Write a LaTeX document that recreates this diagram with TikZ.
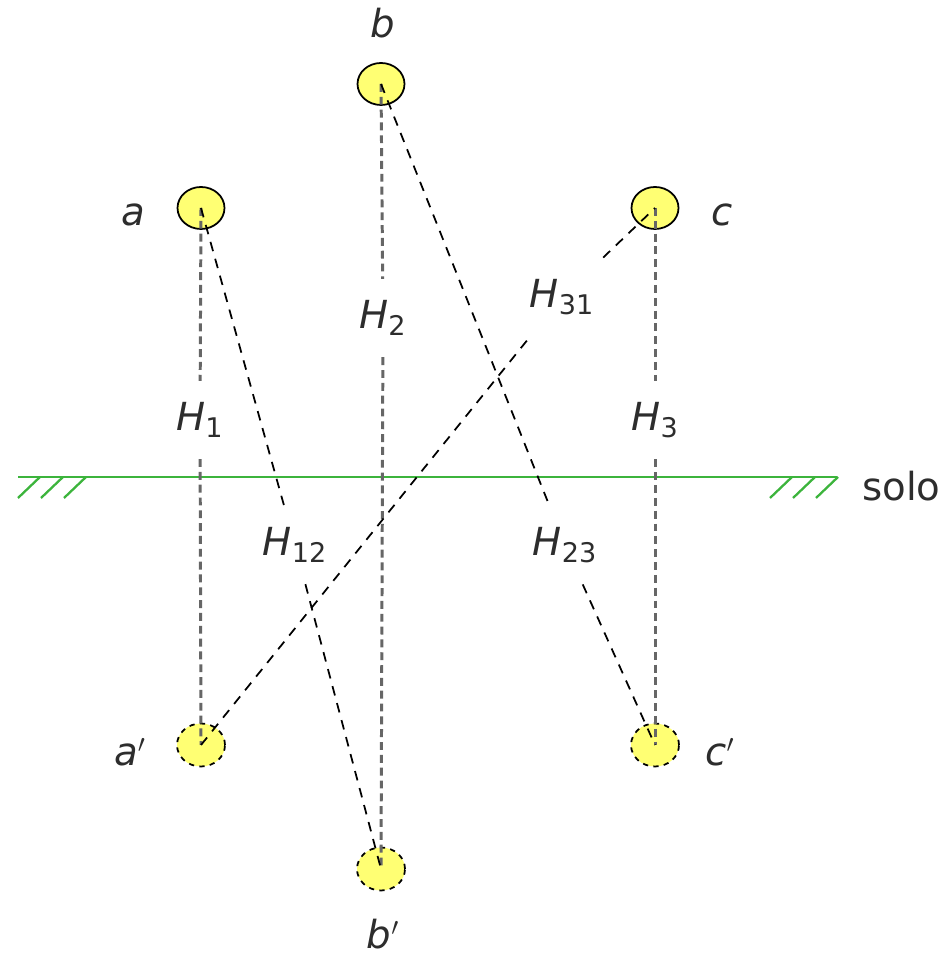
\documentclass[tikz,border=0pt]{standalone}
\usepackage{fontspec}
\setmainfont{DejaVu Sans}
\usetikzlibrary{shapes.geometric}
\definecolor{ball}{RGB}{255,255,115}
\definecolor{soil}{RGB}{60,180,60}
\definecolor{ink}{RGB}{45,45,45}
\tikzset{
  sphere/.style={ellipse,draw=black,fill=ball,line width=1pt,minimum width=0.94cm,minimum height=0.84cm,inner sep=0pt},
  image/.style={sphere,dashed,minimum width=0.96cm,minimum height=0.86cm},
  pname/.style={text=ink,font=\fontsize{22}{26}\selectfont\itshape},
  hlabel/.style={text=ink,font=\fontsize{22}{26}\selectfont,inner sep=0.42cm},
  vline/.style={draw=black!60,line width=1.7pt,dash pattern=on 4.5pt off 2.8pt},
  dline/.style={draw=black,line width=1pt,dash pattern=on 5.5pt off 4.5pt},
  ground/.style={draw=soil,line width=1.3pt}
}
\newcommand{\hh}[1]{{\itshape H}\textsubscript{#1}}
\begin{document}
\begin{tikzpicture}[x=1cm,y=1cm]
\useasboundingbox (0,0) rectangle (18.98,19.12);

% ground
\draw[ground] (0.36,9.58) -- (16.74,9.58);
\foreach \x in {0.36,0.82,1.28,15.40,15.86,16.32}
  \draw[ground] (\x,9.16) -- (\x+0.44,9.58);
\node[anchor=west,text=ink,font=\fontsize{22}{26}\selectfont,inner sep=0pt] (solo) at (17.24,9.40) {solo};

% spheres and their images
\node[sphere] (a) at (4.02,14.96) {};
\node[sphere] (b) at (7.62,17.44) {};
\node[sphere] (c) at (13.10,14.96) {};
\node[image] (a1) at (4.02,4.22) {};
\node[image] (b1) at (7.62,1.74) {};
\node[image] (c1) at (13.10,4.22) {};

\node[pname] (la) at (2.66,14.82) {a};
\node[pname] (lb) at (7.66,18.66) {b};
\node[pname] (lc) at (14.44,14.82) {c};
\node[pname] (la1) at (2.60,4.08) {a$'$};
\node[pname] (lb1) at (7.66,0.44) {b$'$};
\node[pname] (lc1) at (14.40,4.08) {c$'$};

% distances
\node[hlabel] (h1) at (4.00,10.72) {\hh{1}};
\node[hlabel] (h2) at (7.66,12.76) {\hh{2}};
\node[hlabel] (h3) at (13.10,10.72) {\hh{3}};
\node[hlabel] (h12) at (5.90,8.22) {\hh{12}};
\node[hlabel] (h23) at (11.30,8.22) {\hh{23}};
\node[hlabel] (h31) at (11.24,13.18) {\hh{31}};

\draw[vline] (a.center) -- (h1) -- (a1.center);
\draw[vline] (b.center) -- (h2) -- (b1.center);
\draw[vline] (c.center) -- (h3) -- (c1.center);
\draw[dline] (a.center) -- (h12) -- (b1.center);
\draw[dline] (b.center) -- (h23) -- (c1.center);
\draw[dline] (a1.center) -- (h31) -- (c.center);
\end{tikzpicture}
\end{document}
